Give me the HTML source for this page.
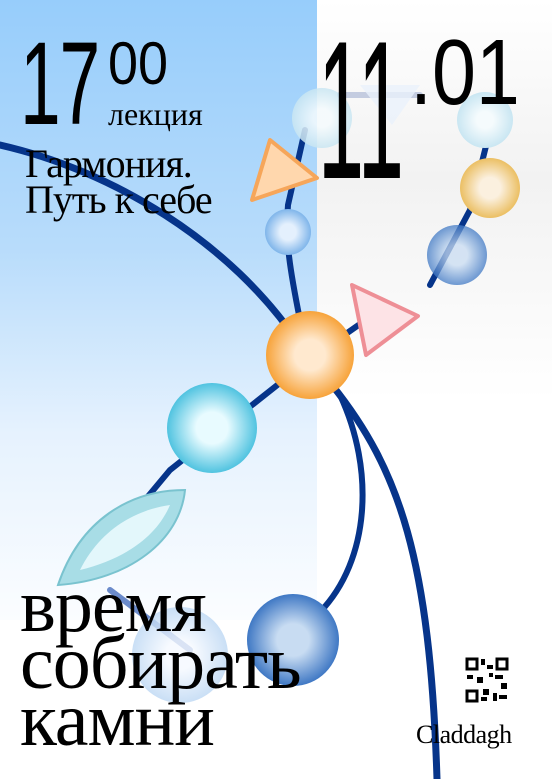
<!DOCTYPE html>
<html><head><meta charset="utf-8"><style>
html,body{margin:0;padding:0}
body{width:552px;height:779px;position:relative;overflow:hidden;background:#fff;font-family:"Liberation Serif","Noto Serif CJK SC",serif}
.t{position:absolute;color:#000;white-space:nowrap;line-height:1}
</style></head><body>
<div style="position:absolute;left:0;top:0;width:317px;height:620px;background:linear-gradient(#97cdfb 0%,#b8dcfb 40%,#e6f2fe 70%,#fbfdff 100%)"></div>
<div style="position:absolute;left:317px;top:0;width:235px;height:400px;background:linear-gradient(#fff,#f2f2f2 45%,#fff)"></div>
<svg width="552" height="779" style="position:absolute;left:0;top:0">
<defs>
<radialGradient id="go" cx=".5" cy=".5" r=".5"><stop offset=".35" stop-color="#ffe9cf"/><stop offset="1" stop-color="#f7a33a"/></radialGradient>
<radialGradient id="gc" cx=".5" cy=".5" r=".5"><stop offset=".35" stop-color="#e8fbff"/><stop offset="1" stop-color="#50c3e0"/></radialGradient>
<radialGradient id="gb" cx=".5" cy=".5" r=".5"><stop offset=".35" stop-color="#c8dcf2"/><stop offset="1" stop-color="#3f78c4"/></radialGradient>
<radialGradient id="gl" cx=".5" cy=".5" r=".5"><stop offset=".35" stop-color="#e4f0fd"/><stop offset="1" stop-color="#7fb5ea"/></radialGradient>
<radialGradient id="gp" cx=".5" cy=".5" r=".5"><stop offset=".3" stop-color="#f5fbfd"/><stop offset="1" stop-color="#c9e6f2"/></radialGradient>
<radialGradient id="gy" cx=".5" cy=".5" r=".5"><stop offset=".35" stop-color="#fbf0df"/><stop offset="1" stop-color="#ebbf63"/></radialGradient>
<radialGradient id="gw" cx=".5" cy=".5" r=".5"><stop offset=".3" stop-color="#f5f9ff"/><stop offset="1" stop-color="#bcd7f3"/></radialGradient>
</defs>
<g fill="none" stroke="#06348a" stroke-linecap="round">
<path d="M0 145 C110 170 230 240 300 345" stroke-width="7"/>
<path d="M332 385 C400 470 430 560 437 779" stroke-width="7"/>
<path d="M340 395 C375 470 370 560 320 612" stroke-width="6"/>
<path d="M300 320 C290 270 285 240 288 205 L305 130" stroke-width="6"/>
<path d="M330 345 L380 310 M430 285 L470 210 L490 130" stroke-width="6"/>
<path d="M290 375 L170 470 L120 530" stroke-width="6"/>
<path d="M110 590 L190 650" stroke="#6b8bcb" stroke-width="6"/>
<path d="M340 95 L420 95" stroke="#c4cce0" stroke-width="6"/>
</g>
<g>
<circle cx="322" cy="118" r="30" fill="url(#gp)" opacity=".85"/>
<path d="M360 85 L420 85 L392 125 Z" fill="#eaf1fb" opacity=".8"/>
<circle cx="485" cy="120" r="28" fill="url(#gp)"/>
<circle cx="490" cy="188" r="30" fill="url(#gy)"/>
<circle cx="457" cy="255" r="30" fill="url(#gb)" opacity=".75"/>
<path d="M270 140 L317 178 L252 200 Z" fill="#ffd7ad" stroke="#f6a65a" stroke-width="4" stroke-linejoin="round"/>
<circle cx="288" cy="232" r="23" fill="url(#gl)"/>
<path d="M352 285 L418 316 L366 355 Z" fill="#fde3e6" stroke="#ee8f96" stroke-width="4" stroke-linejoin="round"/>
<circle cx="310" cy="355" r="44" fill="url(#go)"/>
<circle cx="212" cy="428" r="45" fill="url(#gc)"/>
<path d="M58 585 C80 520 130 490 185 490 C180 540 130 580 58 585 Z" fill="#a8dde6" stroke="#7ac3cf" stroke-width="2"/>
<path d="M80 570 C100 530 135 510 170 505 C155 540 120 560 80 570 Z" fill="#e3f7fb"/>
<circle cx="180" cy="655" r="48" fill="url(#gw)" opacity=".8"/>
<circle cx="293" cy="640" r="46" fill="url(#gb)"/>
</g>
</svg>
<div class="t" style="left:20px;top:25px;font-family:'Liberation Sans',sans-serif;font-size:118px;transform:scaleX(.62);transform-origin:left;letter-spacing:-2px">17</div>
<div class="t" style="left:108px;top:34px;font-family:'Liberation Sans',sans-serif;font-size:60px;transform:scaleX(.9);transform-origin:left">00</div>
<div class="t" style="left:108px;top:98px;font-size:32px">лекция</div>
<div class="t" style="left:25px;top:146px;font-size:40px;line-height:36px;letter-spacing:-1px">Гармония.<br>Путь к себе</div>
<div class="t" style="left:318px;top:12px;font-family:'Liberation Sans',sans-serif;font-size:197px;transform:scaleX(.42);transform-origin:left;letter-spacing:0">11</div>
<div class="t" style="left:410px;top:26px;font-family:'Liberation Sans',sans-serif;font-size:93px;transform:scaleX(.85);transform-origin:left">.01</div>
<div class="t" style="left:20px;top:578px;font-size:76px;line-height:57px;letter-spacing:-1px">время<br>собирать<br>камни</div>
<svg width="44" height="46" style="position:absolute;left:465px;top:657px">
<rect width="44" height="46" fill="#fff"/>
<g fill="none" stroke="#000" stroke-width="3"><rect x="2" y="2" width="10" height="10"/><rect x="32" y="2" width="10" height="10"/><rect x="2" y="34" width="10" height="10"/></g>
<g fill="#000"><rect x="16" y="2" width="4" height="6"/><rect x="22" y="8" width="6" height="4"/><rect x="2" y="18" width="6" height="4"/><rect x="12" y="20" width="6" height="6"/><rect x="30" y="18" width="8" height="4"/><rect x="36" y="26" width="6" height="6"/><rect x="18" y="32" width="6" height="6"/><rect x="28" y="36" width="4" height="8"/><rect x="34" y="38" width="8" height="4"/><rect x="24" y="16" width="4" height="4"/><rect x="16" y="40" width="6" height="4"/></g>
</svg>
<div class="t" style="left:416px;top:722px;font-size:26px;letter-spacing:-0.5px">Claddagh</div>
</body></html>
